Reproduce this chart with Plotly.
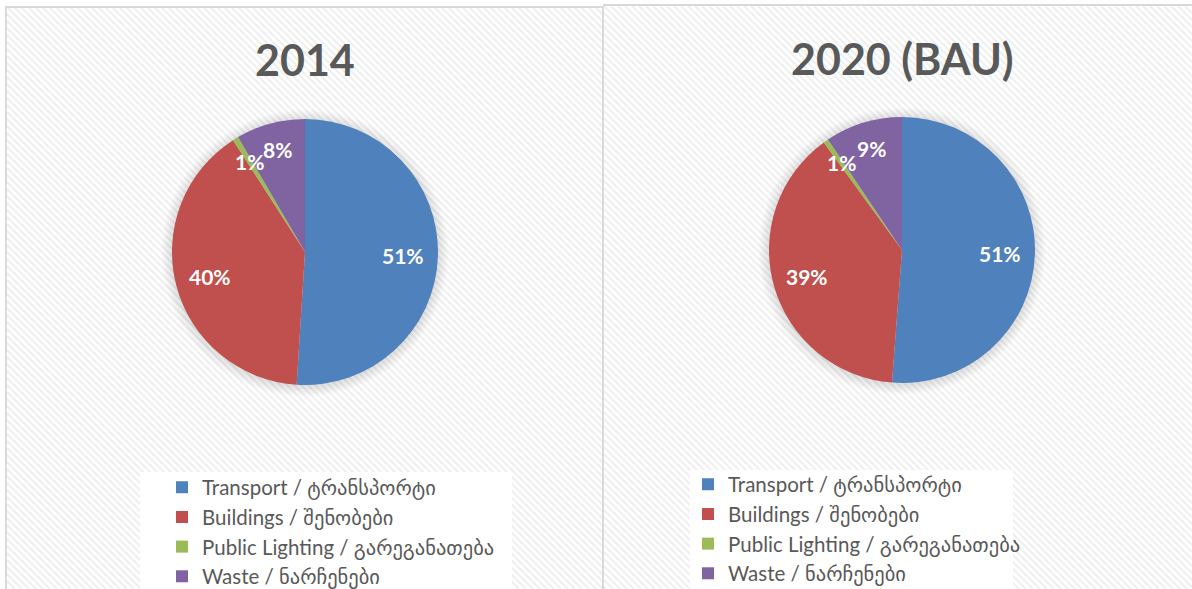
import math
import plotly.graph_objects as go

categories = ["Transport / ტრანსპორტი", "Buildings / შენობები",
              "Public Lighting / გარეგანათება", "Waste / ნარჩენები"]
values_2014 = [51.0, 39.9, 0.7, 8.4]
values_2020 = [51.2, 38.8, 0.6, 9.4]
titles = ["2014", "2020 (BAU)"]
colors = ["#4F81BD", "#C0504D", "#9BBB59", "#8064A2"]

FONT = "Lato, 'DejaVu Sans', sans-serif"

W, H = 1192, 589


def px(x):
    return x / W


def py(y):
    return 1 - y / H


def hatch_path(X0, Y0, X1, Y1, pitch=7):
    parts = []
    c = Y0 - X1
    while c <= Y1 - X0:
        xa = max(X0, Y0 - c)
        xb = min(X1, Y1 - c)
        if xb > xa:
            parts.append(f"M{px(xa):.5f},{py(xa + c):.5f}L{px(xb):.5f},{py(xb + c):.5f}")
        c += pitch
    return "".join(parts)


pies = [
    dict(values=values_2014, cx=305, cy=252, r=133, legend="legend", suffix=""),
    dict(values=values_2020, cx=902, cy=250, r=133, legend="legend2", suffix="\u200b"),
]

fig = go.Figure()
annotations = []
shapes = []

# hatched panel backgrounds
for (X0, Y0, X1, Y1) in [(7, 8, 603, 589), (604, 6, 1192, 589)]:
    shapes.append(dict(type="path", xref="paper", yref="paper",
                       path=hatch_path(X0, Y0, X1, Y1),
                       line=dict(color="#f0f0f0", width=2.2), layer="below"))
# panel borders
shapes.append(dict(type="path", xref="paper", yref="paper",
                   path=f"M{px(6)},{py(589)}L{px(6)},{py(7)}L{px(603)},{py(7)}L{px(603)},{py(589)}",
                   line=dict(color="#d9d9d9", width=2), layer="below"))
shapes.append(dict(type="path", xref="paper", yref="paper",
                   path=f"M{px(603)},{py(5)}L{px(1192)},{py(5)}",
                   line=dict(color="#d9d9d9", width=2), layer="below"))
# legend boxes
shapes.append(dict(type="rect", xref="paper", yref="paper",
                   x0=px(140), y0=py(589), x1=px(512), y1=py(472),
                   fillcolor="white", line=dict(width=0), layer="below"))
shapes.append(dict(type="rect", xref="paper", yref="paper",
                   x0=px(690), y0=py(589), x1=px(1013), y1=py(470),
                   fillcolor="white", line=dict(width=0), layer="below"))

for p in pies:
    cx, cy, r = p["cx"], p["cy"], p["r"]
    # soft shadow around the pie
    for k in range(7, 0, -1):
        d = k * 1.5
        shapes.append(dict(type="circle", xref="paper", yref="paper",
                           x0=px(cx - r - d), x1=px(cx + r + d),
                           y0=py(cy + r + d + 1), y1=py(cy - r - d + 1),
                           fillcolor="rgba(0,0,0,0.016)", line=dict(width=0),
                           layer="below"))
    fig.add_trace(go.Pie(
        labels=[c + p["suffix"] for c in categories], values=p["values"],
        sort=False, direction="clockwise", rotation=0,
        marker=dict(colors=colors, line=dict(width=0)),
        textinfo="none",
        domain=dict(x=[px(cx - r), px(cx + r)], y=[py(cy + r), py(cy - r)]),
        legend=p["legend"], hoverinfo="label+percent"))
    # percentage labels along each slice's mid-angle
    total = sum(p["values"])
    cum = 0.0
    for v in p["values"]:
        frac = v / total
        mid = (cum + frac / 2) * 2 * math.pi
        cum += frac
        rf = 0.74 if frac > 0.2 else 0.8
        lx = cx + rf * r * math.sin(mid)
        ly = cy - rf * r * math.cos(mid)
        annotations.append(dict(
            text=f"{round(frac * 100):.0f}%", x=px(lx), y=py(ly),
            xref="paper", yref="paper", showarrow=False,
            xanchor="center", yanchor="middle",
            font=dict(size=21, color="white", family=FONT, weight="bold")))

for t, cx, cy in [(titles[0], 305, 60), (titles[1], 902, 58)]:
    annotations.append(dict(text=t, x=px(cx), y=py(cy), xref="paper", yref="paper",
                            showarrow=False, xanchor="center", yanchor="middle",
                            font=dict(size=43, color="#595959", family=FONT, weight="bold")))

legend_common = dict(bgcolor="rgba(0,0,0,0)", borderwidth=0,
                     font=dict(size=20.5, color="#595959", family=FONT),
                     xanchor="left", yanchor="top", tracegroupgap=0)

fig.update_layout(
    width=W, height=H,
    margin=dict(l=0, r=0, t=0, b=0, autoexpand=False),
    paper_bgcolor="white", plot_bgcolor="white",
    shapes=shapes, annotations=annotations,
    legend=dict(x=px(162), y=py(467.5), **legend_common),
    legend2=dict(x=px(688), y=py(464.5), **legend_common),
)

fig.write_html(
    "out.html",
    config={"displayModeBar": False},
    post_script="document.documentElement.style.margin='0';"
                "document.body.style.margin='0';"
                "document.documentElement.style.overflow='hidden';"
                "document.body.style.overflow='hidden';",
)
